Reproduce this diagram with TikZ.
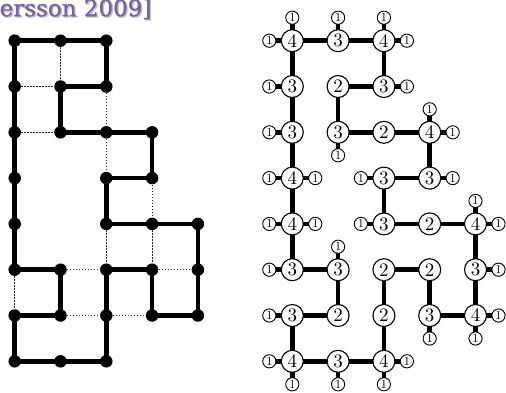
\documentclass[tikz,border=0pt]{standalone}
\usepackage{fontspec}
\newfontfamily\titlefont[FakeBold=1.2]{DejaVu Serif}
\usetikzlibrary{backgrounds}
\definecolor{titlepurple}{RGB}{118,98,165}
\definecolor{titleshadow}{RGB}{190,190,195}
\begin{document}
\begin{tikzpicture}[x=1pt,y=-1pt,
  dot/.style={circle,fill=black,inner sep=0pt,minimum size=12.5pt},
  thickedge/.style={line width=4.6pt},
  dottededge/.style={line width=1.1pt,draw=black!85,dash pattern=on 1.5pt off 1.5pt},
  vnode/.style={circle,draw,fill=white,line width=1.1pt,inner sep=0pt,minimum size=22pt,font=\fontsize{10}{10}\selectfont},
  leaf/.style={circle,draw,fill=white,line width=0.9pt,inner sep=0pt,minimum size=13.2pt,font=\fontsize{10}{10}\selectfont},
  redge/.style={line width=4.6pt},
  titletext/.style={anchor=base west,inner sep=0pt,font=\titlefont\fontsize{23}{23}\selectfont}]
\useasboundingbox (0,0) rectangle (506,392);
% title
\node[titletext,text=titleshadow] (titleshadow) at (0.9,17.4) {ersson 2009]};
\node[titletext,text=titlepurple] (title) at (-0.5,16.2) {ersson 2009]};
% left grid vertices
\foreach \i/\j in {0/0,1/0,2/0,0/1,1/1,2/1,0/2,1/2,2/2,3/2,0/3,2/3,3/3,0/4,2/4,3/4,4/4,
                   0/5,1/5,2/5,3/5,4/5,0/6,1/6,2/6,3/6,4/6,0/7,1/7,2/7}
  \node[dot] (L\i\j) at ({14.7+45.8*\i},{40.7+45.8*\j}) {};
% left thick edges (cycle)
\foreach \a/\b in {00/10,10/20,20/21,11/21,00/01,01/02,02/03,03/04,04/05,11/12,12/22,22/32,32/33,23/33,23/24,24/34,34/44,44/45,45/46,36/46,35/36,25/35,25/26,26/27,17/27,07/17,06/07,06/16,15/16,05/15}
  \draw[thickedge] (L\a.center) -- (L\b.center);
% left dotted edges
\foreach \a/\b in {10/11,01/11,21/22,02/12,22/23,33/34,24/25,34/35,15/25,35/45,05/06,16/26,26/36}
  \draw[dottededge] (L\a) -- (L\b);
% right graph nodes
\foreach \i/\j/\lab in {0/0/4,1/0/3,2/0/4,0/1/3,1/1/2,2/1/3,0/2/3,1/2/3,2/2/2,3/2/4,0/3/4,2/3/3,3/3/3,
                        0/4/4,2/4/3,3/4/2,4/4/4,0/5/3,1/5/3,2/5/2,3/5/2,4/5/3,0/6/3,1/6/2,2/6/2,3/6/3,4/6/4,
                        0/7/4,1/7/3,2/7/4}
  \node[vnode] (R\i\j) at ({292.3+45.8*\i},{40.7+45.8*\j}) {\scalebox{1.9}{\lab}};
% leaves
\foreach \i/\j/\d/\dx/\dy in {0/0/W/-23/0,0/0/N/0/-23,1/0/N/0/-23,2/0/N/0/-23,2/0/E/23/0,
    0/1/W/-23/0,2/1/E/23/0,0/2/W/-23/0,1/2/S/0/23,3/2/N/0/-23,3/2/E/23/0,
    0/3/W/-23/0,0/3/E/23/0,2/3/W/-23/0,3/3/E/23/0,
    0/4/W/-23/0,0/4/E/23/0,2/4/W/-23/0,4/4/N/0/-23,4/4/E/23/0,
    0/5/W/-23/0,1/5/N/0/-23,4/5/E/23/0,
    0/6/W/-23/0,3/6/S/0/23,4/6/E/23/0,4/6/S/0/23,
    0/7/W/-23/0,0/7/S/0/23,1/7/S/0/23,2/7/E/23/0,2/7/S/0/23}
{
  \node[leaf] (Q\i\j\d) at ({292.3+45.8*\i+\dx},{40.7+45.8*\j+\dy}) {\scalebox{1.22}{1}};
  \begin{scope}[on background layer]
    \draw[redge] (R\i\j.center) -- (Q\i\j\d.center);
  \end{scope}
}
% right graph edges
\begin{scope}[on background layer]
\foreach \a/\b in {00/10,10/20,20/21,11/21,00/01,01/02,02/03,03/04,04/05,11/12,12/22,22/32,32/33,23/33,23/24,24/34,34/44,44/45,45/46,36/46,35/36,25/35,25/26,26/27,17/27,07/17,06/07,06/16,15/16,05/15}
  \draw[redge] (R\a.center) -- (R\b.center);
\end{scope}
\end{tikzpicture}
\end{document}
